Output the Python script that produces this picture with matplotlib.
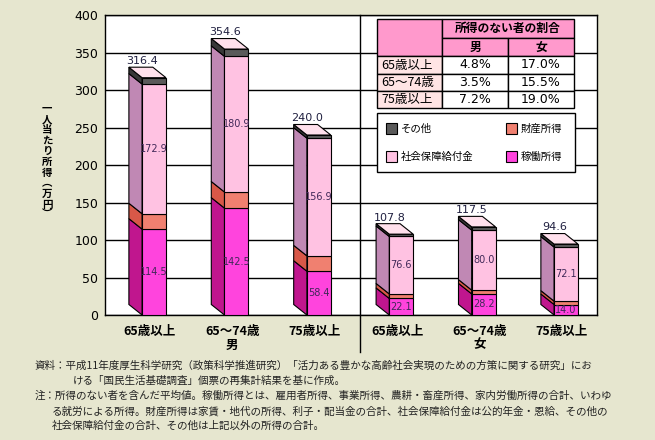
import numpy as np
import matplotlib.pyplot as plt
from matplotlib.patches import Polygon, Rectangle

plt.rcParams['font.family'] = ['Noto Sans CJK JP', 'DejaVu Sans']

# data (万円)
ages = ["65歳以上", "65〜74歳", "75歳以上"]
sexes = ["男", "女"]
work_income = np.array([114.5, 142.5, 58.4, 22.1, 28.2, 14.0])
property_income = np.array([20.5, 21.5, 20.5, 6.0, 5.0, 4.5])
social_benefit = np.array([172.9, 180.9, 156.9, 76.6, 80.0, 72.1])
total_income = np.array([316.4, 354.6, 240.0, 107.8, 117.5, 94.6])
other_income = total_income - work_income - property_income - social_benefit

# share of people with no income
no_income_male = ["4.8%", "3.5%", "7.2%"]
no_income_female = ["17.0%", "15.5%", "19.0%"]

series = [
    ("稼働所得", work_income, "#ff44dd", "#c0168e", True),
    ("財産所得", property_income, "#f08070", "#d85848", False),
    ("社会保障給付金", social_benefit, "#ffc2e2", "#c088b4", True),
    ("その他", other_income, "#5a5a5a", "#383838", False),
]
lid_color = "#ffe0ec"
bg = "#e6e6cf"

fig = plt.figure(figsize=(6.55, 4.4), dpi=100, facecolor=bg)
ax = fig.add_axes([105 / 655, 1 - 315 / 440, 492 / 655, 300 / 440])
ax.set_facecolor("white")

x = np.arange(len(work_income))
w = 0.29          # front face width
dx, dy = -0.16, 14  # 3d depth offset

bottom = np.zeros(len(x))
for name, vals, fc, sc, show in series:
    ax.bar(x, vals, w, bottom=bottom, color=fc, edgecolor="black", linewidth=0.8, zorder=3)
    for xi, b, v in zip(x, bottom, vals):
        xl = xi - w / 2
        side = [(xl, b), (xl, b + v), (xl + dx, b + v + dy), (xl + dx, b + dy)]
        ax.add_patch(Polygon(side, closed=True, facecolor=sc, edgecolor="black",
                             linewidth=0.8, zorder=2.9))
        if show:
            ax.text(xi, b + v / 2, f"{v:.1f}", ha="center", va="center", fontsize=7,
                    family="DejaVu Sans", color="#402858", zorder=5)
    bottom += vals

# top lid + total labels
for xi, t in zip(x, total_income):
    xl, xr = xi - w / 2, xi + w / 2
    lid = [(xl, t), (xr, t), (xr + dx, t + dy), (xl + dx, t + dy)]
    ax.add_patch(Polygon(lid, closed=True, facecolor=lid_color, edgecolor="black",
                         linewidth=0.8, zorder=3))
    ax.text(xi - 0.14, t + dy + 1.5, f"{t:.1f}", ha="center", va="bottom", fontsize=8,
            family="DejaVu Sans", color="#202040", zorder=5)

ax.set_xlim(-0.595, 5.376)
ax.set_ylim(0, 400)
ax.set_yticks(np.arange(0, 401, 50))
ax.yaxis.grid(True, color="black", linewidth=1)
ax.set_axisbelow(True)
ax.set_xticks(x - 0.05, ages * 2)
ax.tick_params(axis="both", length=0)
ax.tick_params(axis="x", pad=7, labelsize=9)
ax.tick_params(axis="y", pad=5)
for lab in ax.get_xticklabels():
    lab.set_fontweight("bold")
for lab in ax.get_yticklabels():
    lab.set_family("DejaVu Sans")
    lab.set_fontsize(9)
for sp in ax.spines.values():
    sp.set_color("black")
    sp.set_linewidth(1)

# male / female divider and group labels
ax.plot([2.5, 2.5], [400, -49], color="black", linewidth=1, clip_on=False, zorder=4)
for i, s in enumerate(sexes):
    ax.text(1 + 3 * i - 0.05, -40, s, ha="center", va="center", fontsize=9,
            fontweight="bold", clip_on=False)

# overlay in pixel coordinates for table, legend and notes
ov = fig.add_axes([0, 0, 1, 1], zorder=5)
ov.set_xlim(0, 655)
ov.set_ylim(440, 0)
ov.axis("off")
ov.patch.set_alpha(0)

head = "#ff99cc"
rowhead = "#ffe4e4"
cx = [377, 442, 508, 574]
ry = [19, 38, 56, 74, 91, 108]
ov.add_patch(Rectangle((cx[0], ry[0]), cx[1] - cx[0], ry[2] - ry[0], fc=head, ec="black", lw=1))
ov.add_patch(Rectangle((cx[1], ry[0]), cx[3] - cx[1], ry[1] - ry[0], fc=head, ec="black", lw=1))
ov.text((cx[1] + cx[3]) / 2, (ry[0] + ry[1]) / 2, "所得のない者の割合", ha="center",
        va="center", fontsize=8.5, fontweight="bold")
for j, s in enumerate(sexes):
    ov.add_patch(Rectangle((cx[1 + j], ry[1]), cx[2 + j] - cx[1 + j], ry[2] - ry[1],
                           fc=head, ec="black", lw=1))
    ov.text((cx[1 + j] + cx[2 + j]) / 2, (ry[1] + ry[2]) / 2, s, ha="center", va="center",
            fontsize=8.5, fontweight="bold")
for i, a in enumerate(ages):
    y0, y1 = ry[2 + i], ry[3 + i]
    ov.add_patch(Rectangle((cx[0], y0), cx[1] - cx[0], y1 - y0, fc=rowhead, ec="black", lw=1))
    ov.text(cx[0] + 4, (y0 + y1) / 2, a, ha="left", va="center", fontsize=9)
    for j, val in enumerate([no_income_male[i], no_income_female[i]]):
        ov.add_patch(Rectangle((cx[1 + j], y0), cx[2 + j] - cx[1 + j], y1 - y0, fc="white",
                               ec="black", lw=1))
        ov.text((cx[1 + j] + cx[2 + j]) / 2, (y0 + y1) / 2, val, ha="center", va="center",
                fontsize=9, family="DejaVu Sans")

# legend box
ov.add_patch(Rectangle((377, 113), 198, 59, fc="white", ec="black", lw=1))
leg_items = [("その他", "#5a5a5a", 386, 129), ("財産所得", "#f08070", 506, 129),
             ("社会保障給付金", "#ffc2e2", 386, 157), ("稼働所得", "#ff44dd", 506, 157)]
for name, c, lx, ly in leg_items:
    ov.add_patch(Rectangle((lx, ly - 5.5), 11, 11, fc=c, ec="black", lw=0.8))
    ov.text(lx + 15, ly, name, ha="left", va="center", fontsize=7.5)

# y label, vertical writing
ov.text(47, 162, "\n".join("一人当たり所得︵万円︶"), ha="center", va="center",
        fontsize=7.5, linespacing=1.08, fontweight="bold")

# notes
notes = [
    (35, 366, "資料：平成11年度厚生科学研究（政策科学推進研究）「活力ある豊かな高齢社会実現のための方策に関する研究」にお"),
    (73, 381, "ける「国民生活基礎調査」個票の再集計結果を基に作成。"),
    (35, 396, "注：所得のない者を含んだ平均値。稼働所得とは、雇用者所得、事業所得、農耕・畜産所得、家内労働所得の合計、いわゆ"),
    (52, 411, "る就労による所得。財産所得は家賃・地代の所得、利子・配当金の合計、社会保障給付金は公的年金・恩給、その他の"),
    (52, 426, "社会保障給付金の合計、その他は上記以外の所得の合計。"),
]
for nx, ny, t in notes:
    ov.text(nx, ny, t, ha="left", va="center", fontsize=7.6, color="#222222")

fig.savefig("out.png", dpi=100, facecolor=bg)
